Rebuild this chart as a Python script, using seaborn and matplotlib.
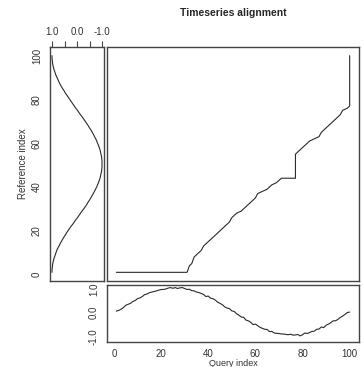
import matplotlib
matplotlib.use("Agg")
import matplotlib.pyplot as plt
import seaborn as sns
import pandas as pd

# reference series (left panel)
reference = [1.00, 1.00, 0.99, 0.98, 0.97, 0.95, 0.93, 0.90, 0.87, 0.84,
             0.81, 0.77, 0.72, 0.68, 0.63, 0.58, 0.53, 0.47, 0.42, 0.36,
             0.30, 0.24, 0.17, 0.11, 0.05, -0.02, -0.08, -0.14, -0.20, -0.27,
             -0.33, -0.39, -0.44, -0.50, -0.55, -0.60, -0.65, -0.70, -0.74, -0.79,
             -0.82, -0.86, -0.89, -0.92, -0.94, -0.96, -0.98, -0.99, -1.00, -1.00,
             -1.00, -1.00, -0.99, -0.98, -0.96, -0.94, -0.92, -0.89, -0.86, -0.82,
             -0.79, -0.75, -0.70, -0.66, -0.61, -0.56, -0.50, -0.45, -0.39, -0.33,
             -0.27, -0.21, -0.14, -0.08, -0.02, 0.05, 0.11, 0.17, 0.23, 0.29,
             0.35, 0.41, 0.47, 0.52, 0.58, 0.63, 0.68, 0.72, 0.76, 0.80,
             0.84, 0.87, 0.90, 0.93, 0.95, 0.97, 0.98, 0.99, 1.00, 1.00]

# query series (bottom panel), noisy sine
query = [0.07, 0.10, 0.15, 0.22, 0.32, 0.36, 0.40, 0.48, 0.52, 0.60,
         0.63, 0.69, 0.77, 0.80, 0.85, 0.88, 0.90, 0.93, 0.96, 0.99,
         0.99, 1.01, 1.05, 1.07, 1.04, 1.07, 1.03, 1.06, 1.07, 1.03,
         0.99, 1.00, 0.94, 0.93, 0.88, 0.86, 0.82, 0.78, 0.69, 0.71,
         0.62, 0.60, 0.54, 0.45, 0.40, 0.34, 0.25, 0.20, 0.18, 0.08,
         0.06, -0.04, -0.10, -0.18, -0.19, -0.31, -0.34, -0.40, -0.50, -0.48,
         -0.55, -0.62, -0.66, -0.70, -0.71, -0.80, -0.79, -0.86, -0.87, -0.88,
         -0.90, -0.90, -0.92, -0.93, -0.91, -0.95, -0.94, -0.92, -0.98, -0.93,
         -0.86, -0.88, -0.84, -0.79, -0.78, -0.70, -0.69, -0.60, -0.63, -0.53,
         -0.48, -0.42, -0.34, -0.34, -0.28, -0.20, -0.14, -0.07, 0.01, 0.03]

# warping path vertices (query index, reference index)
path_query = [1, 31, 32, 33, 34, 35, 37, 38, 39, 41, 43, 45, 47, 49, 50,
              52, 54, 56, 57, 58, 60, 61, 63, 65, 66, 67, 69, 71, 77, 77,
              78, 79, 80, 81, 82, 83, 85, 87, 88, 90, 91, 93, 94, 96, 97,
              99, 100, 100]
path_ref = [1, 1, 4, 5, 8, 9, 11, 13, 14, 16, 18, 20, 22, 24, 26,
            28, 29, 31, 32, 33, 35, 37, 38, 39, 40, 41, 42, 44, 44, 55,
            56, 57, 58, 59, 60, 61, 62, 63, 65, 67, 68, 70, 71, 73, 75,
            76, 77, 100]

sns.set_style("white")
plt.rcParams['font.family'] = ['Liberation Sans', 'DejaVu Sans']

W, H = 363, 367
def rect(x0, x1, y0, y1):
    return [x0 / W, 1 - y1 / H, (x1 - x0) / W, (y1 - y0) / H]

fig = plt.figure(figsize=(W / 100, H / 100), dpi=100)
fig.patch.set_facecolor("white")

ax_l = fig.add_axes(rect(50, 104, 47, 281))
ax_m = fig.add_axes(rect(107, 359, 47, 281))
ax_b = fig.add_axes(rect(107, 359, 285, 342))

lc = "#2a2a2a"
fc = "#444444"
fs = 7

ref_df = pd.DataFrame({"value": reference, "index": range(1, len(reference) + 1)})
qry_df = pd.DataFrame({"value": query, "index": range(1, len(query) + 1)})
path_df = pd.DataFrame({"q": path_query, "r": path_ref})

sns.lineplot(data=ref_df, x="value", y="index", sort=False, estimator=None,
             color=lc, lw=0.8, ax=ax_l)
sns.lineplot(data=path_df, x="q", y="r", sort=False, estimator=None,
             color=lc, lw=0.8, ax=ax_m)
sns.lineplot(data=qry_df, x="index", y="value", sort=False, estimator=None,
             color=lc, lw=0.8, ax=ax_b)

for ax in (ax_l, ax_m, ax_b):
    ax.set_xlabel("")
    ax.set_ylabel("")
    for s in ax.spines.values():
        s.set_visible(True)
        s.set_color(fc)
        s.set_linewidth(1.0)
    ax.tick_params(direction="out", length=4.3, width=0.8, color=fc,
                   labelsize=fs, labelcolor="#333333", pad=1.5)

# left panel: reference
ax_l.set_xlim(1.08, -1.08)
ax_l.set_ylim(-2.96, 103.96)
ax_l.xaxis.tick_top()
ax_l.set_xticks([1, 0.5, 0, -0.5, -1])
ax_l.set_xticklabels(["1.0", "", "0.0", "", "-1.0"])
ax_l.tick_params(axis="x", pad=3)
ax_l.set_yticks([0, 20, 40, 60, 80, 100])
ax_l.set_yticklabels(["0", "20", "40", "60", "80", "100"], rotation=90, va="center")
ax_l.set_ylabel("Reference index", fontsize=fs, color="#333333", labelpad=3)

# main panel: alignment path
ax_m.set_xlim(-2.96, 103.96)
ax_m.set_ylim(-2.96, 103.96)
ax_m.set_xticks([])
ax_m.set_yticks([])
ax_m.set_title("Timeseries alignment", fontsize=7.5, fontweight="bold", pad=22)

# bottom panel: query
ax_b.set_xlim(-2.96, 103.96)
ax_b.set_ylim(-1.24, 1.18)
ax_b.set_xticks([0, 20, 40, 60, 80, 100])
ax_b.set_yticks([-1, -0.5, 0, 0.5, 1])
ax_b.set_yticklabels(["-1.0", "", "0.0", "", "1.0"], rotation=90, va="center")
ax_b.tick_params(axis="x", length=3.6, pad=1.5)
ax_b.set_xlabel("Query index", fontsize=6.5, color="#333333", labelpad=0)

fig.savefig("out.png", dpi=100)
